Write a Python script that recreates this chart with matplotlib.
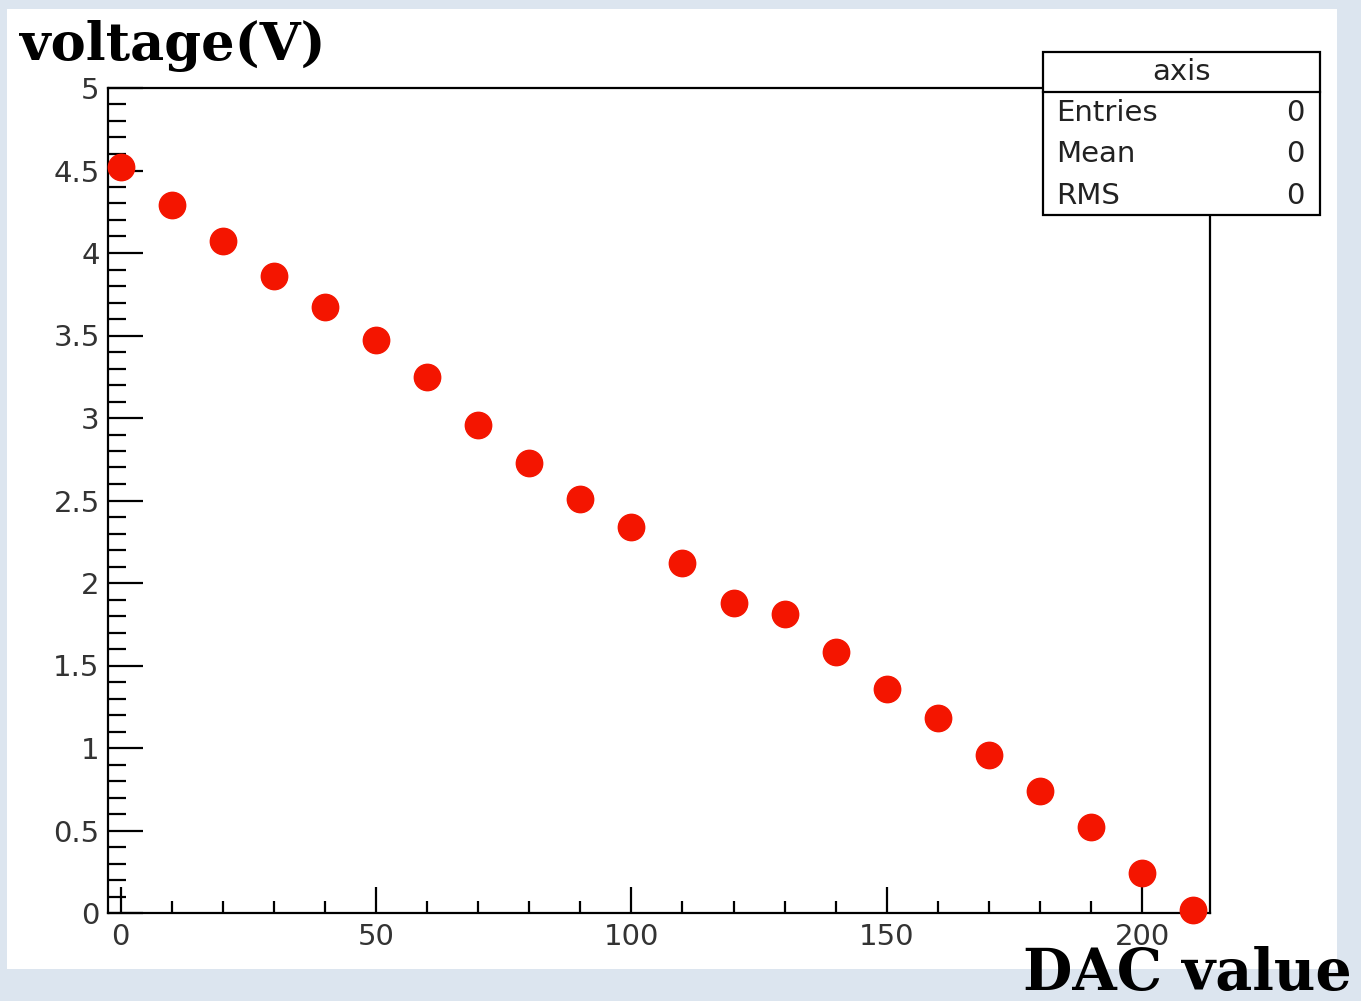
import matplotlib
matplotlib.use("Agg")
import matplotlib.pyplot as plt
from matplotlib.patches import Rectangle
from matplotlib.ticker import MultipleLocator

# DAC scan: output voltage read back for each DAC setting
dac_values = [0, 10, 20, 30, 40, 50, 60, 70, 80, 90, 100,
              110, 120, 130, 140, 150, 160, 170, 180, 190, 200, 210]
voltages = [4.52, 4.29, 4.07, 3.86, 3.67, 3.47, 3.25, 2.96, 2.73, 2.51, 2.34,
            2.12, 1.88, 1.81, 1.58, 1.36, 1.18, 0.96, 0.74, 0.52, 0.24, 0.02]

y_ticks = [0, 0.5, 1, 1.5, 2, 2.5, 3, 3.5, 4, 4.5, 5]
y_ticklabels = ["0", "0.5", "1", "1.5", "2", "2.5", "3", "3.5", "4", "4.5", "5"]

stats_labels = ["Entries", "Mean", "RMS"]
stats_values = ["0", "0", "0"]

SANS = ["DejaVu Sans"]
SERIF = ["DejaVu Serif"]

W, H = 1361, 1001
fig = plt.figure(figsize=(W / 100, H / 100), dpi=100)
fig.patch.set_facecolor("#dce5ef")

# white canvas pad behind the frame
fig.patches.append(Rectangle((7 / W, 1 - 969 / H), (1337 - 7) / W, (969 - 9) / H,
                             transform=fig.transFigure, facecolor="white",
                             edgecolor="none", zorder=-5))

ax = fig.add_axes([108 / W, 1 - 913 / H, (1210 - 108) / W, (913 - 88) / H])
ax.set_zorder(1)
ax.patch.set_alpha(0)
ax.set_xlim(-2.5, 213.3)
ax.set_ylim(0, 5)

ax.errorbar(dac_values, voltages, yerr=0.03, fmt="o", color="#f41500",
            markersize=19, elinewidth=1.2, capsize=0, zorder=3, clip_on=False)

for s in ax.spines.values():
    s.set_linewidth(1.6)
    s.set_color("black")

ax.xaxis.set_major_locator(MultipleLocator(50))
ax.xaxis.set_minor_locator(MultipleLocator(10))
ax.yaxis.set_minor_locator(MultipleLocator(0.1))
ax.tick_params(axis="both", which="both", direction="in", width=1.6, color="black",
               labelsize=21, labelcolor="#333333", top=False, right=False)
ax.tick_params(axis="y", which="major", length=25, pad=6)
ax.tick_params(axis="y", which="minor", length=13)
ax.tick_params(axis="x", which="major", length=19, pad=7)
ax.tick_params(axis="x", which="minor", length=9)
ax.set_yticks(y_ticks)
ax.set_yticklabels(y_ticklabels)
for lab in ax.get_xticklabels() + ax.get_yticklabels():
    lab.set_family(SANS)

# statistics box, drawn over the frame
bx0, bx1, by0, by1, by_mid = 1043, 1320, 52, 215, 92
fig.patches.append(Rectangle((bx0 / W, 1 - by1 / H), (bx1 - bx0) / W, (by1 - by0) / H,
                             transform=fig.transFigure, facecolor="white",
                             edgecolor="black", linewidth=1.6, zorder=5))
fig.lines.append(plt.Line2D([bx0 / W, bx1 / W], [1 - by_mid / H, 1 - by_mid / H],
                            transform=fig.transFigure, color="black", linewidth=1.6,
                            zorder=6))
fig.text((bx0 + bx1) / 2 / W, 1 - 72 / H, "axis", ha="center", va="center",
         fontsize=21, color="#222222", family=SANS, zorder=7)
for i, (name, val) in enumerate(zip(stats_labels, stats_values)):
    yy = 1 - (113 + i * 41.5) / H
    fig.text(1056 / W, yy, name, ha="left", va="center", fontsize=21,
             color="#222222", family=SANS, zorder=7)
    fig.text(1305 / W, yy, val, ha="right", va="center", fontsize=21,
             color="#222222", family=SANS, zorder=7)

fig.text(20 / W, 1 - 60 / H, "voltage(V)", ha="left", va="baseline", fontsize=38,
         fontweight="bold", family=SERIF, color="black", zorder=8)
fig.text(1352 / W, 1 - 990 / H, "DAC value", ha="right", va="baseline", fontsize=41,
         fontweight="bold", family=SERIF, color="black", zorder=8)

fig.savefig("out.png", dpi=100, facecolor=fig.get_facecolor())
